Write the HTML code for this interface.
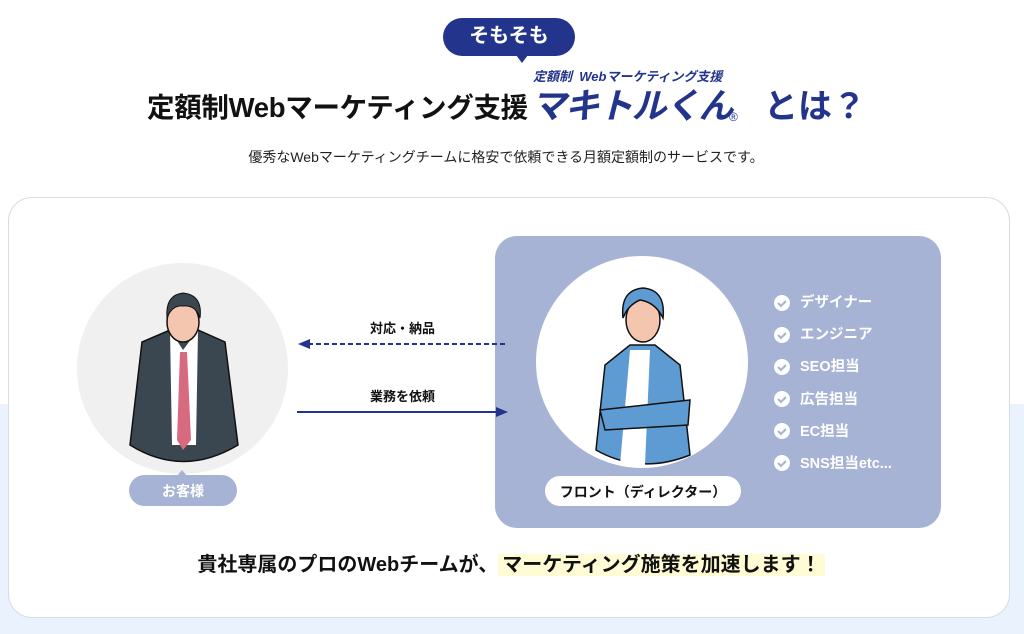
<!DOCTYPE html>
<html><head><meta charset="utf-8"><style>
body{margin:0;width:1024px;height:634px;position:relative;overflow:hidden;background:#fff;font-family:"Liberation Sans","Noto Sans CJK JP",sans-serif}
.abs{position:absolute}
.bg2{left:0;top:404px;width:1024px;height:230px;background:#eaf3fd}
.card{left:8px;top:197px;width:1000px;height:419px;background:#fff;border:1px solid #d8dbe0;border-radius:24px}
.t{white-space:nowrap}
</style></head><body>
<div class="abs bg2"></div>
<div class="abs card"></div>
<div class="abs" style="left:443px;top:18px;width:132px;height:38px;background:#23348c;border-radius:19px"></div>
<div class="abs" style="left:516px;top:55px;width:0;height:0;border-left:6px solid transparent;border-right:6px solid transparent;border-top:8px solid #23348c"></div>
<div class="abs t" style="left:443px;top:24px;width:132px;text-align:center;color:#fff;font-weight:bold;font-size:20px;line-height:24px">そもそも</div>
<div class="abs t" style="left:533px;top:66px;color:#23348c;font-style:italic;font-weight:bold;font-size:13px">定額制&nbsp;&nbsp;Webマーケティング支援</div>
<div class="abs t" style="left:147px;top:92px;color:#111;font-weight:bold;font-size:27.5px;line-height:32px;letter-spacing:-0.3px">定額制Webマーケティング支援</div>
<div class="abs t" style="left:531px;top:85px;color:#23348c;font-style:italic;font-weight:bold;font-size:35px;line-height:44px;letter-spacing:-1.5px">マキトルくん</div>
<div class="abs t" style="left:729px;top:110px;color:#23348c;font-size:12px">®</div>
<div class="abs t" style="left:764px;top:85px;color:#23348c;font-weight:bold;font-size:34px;line-height:44px">とは？</div>
<div class="abs t" style="left:0;top:147px;width:1012px;text-align:center;color:#222;font-size:14px">優秀なWebマーケティングチームに格安で依頼できる月額定額制のサービスです。</div>
<div class="abs" style="left:495px;top:236px;width:446px;height:292px;background:#a7b3d4;border-radius:22px"></div>
<div class="abs" style="left:77px;top:263px;width:211px;height:211px;border-radius:50%;background:#f0f0f0"></div>
<div class="abs" style="left:536px;top:256px;width:212px;height:212px;border-radius:50%;background:#fff"></div>
<svg class="abs" style="left:0;top:0" width="1024" height="634">
<path d="M130 445 L142 342 L170 330 L198 330 L225 342 L238 445 Q183 478 130 445Z" fill="#3a4750" stroke="#111" stroke-width="1.5"/>
<path d="M170 330 L183 350 L198 330 L196 445 L172 445Z" fill="#fff"/>
<path d="M180 352 L187 352 L191 440 L183 450 L177 440Z" fill="#d86a7f"/>
<ellipse cx="183" cy="322" rx="16" ry="20" fill="#f4c6b0" stroke="#111" stroke-width="1.5"/>
<path d="M167 318 Q165 295 183 293 Q203 295 200 318 Q196 305 183 306 Q172 305 167 318Z" fill="#3a4750" stroke="#111"/>
<path d="M596 450 L605 365 L630 345 L655 345 L680 365 L690 455 Q640 475 596 450Z" fill="#5f9bd3" stroke="#111" stroke-width="1.5"/>
<path d="M630 350 L650 350 L645 465 L620 465Z" fill="#fff"/>
<path d="M600 410 L690 400 L688 425 L605 430Z" fill="#5f9bd3" stroke="#111" stroke-width="1.5"/>
<ellipse cx="643" cy="320" rx="17" ry="22" fill="#f4c6b0" stroke="#111" stroke-width="1.5"/>
<path d="M623 318 Q620 290 643 288 Q666 290 663 318 Q655 302 640 300 Q628 305 623 318Z" fill="#5f9bd3" stroke="#111" stroke-width="1.5"/>
<line x1="308" y1="344" x2="507" y2="344" stroke="#23348c" stroke-width="2" stroke-dasharray="5,3"/>
<path d="M298 344 L310 339 L310 349Z" fill="#23348c"/>
<line x1="297" y1="412" x2="498" y2="412" stroke="#23348c" stroke-width="2"/>
<path d="M508 412 L496 407 L496 417Z" fill="#23348c"/>
<g fill="#fff">
<circle cx="782" cy="303" r="8"/><circle cx="782" cy="335" r="8"/><circle cx="782" cy="367" r="8"/><circle cx="782" cy="399" r="8"/><circle cx="782" cy="431" r="8"/><circle cx="782" cy="463" r="8"/>
</g>
<g fill="none" stroke="#a7b3d4" stroke-width="2">
<path d="M778 303 l3 3 l5 -5"/><path d="M778 335 l3 3 l5 -5"/><path d="M778 367 l3 3 l5 -5"/><path d="M778 399 l3 3 l5 -5"/><path d="M778 431 l3 3 l5 -5"/><path d="M778 463 l3 3 l5 -5"/>
</g>
</svg>
<div class="abs t" style="left:300px;top:318px;width:205px;text-align:center;font-weight:bold;font-size:13px;color:#111">対応・納品</div>
<div class="abs t" style="left:300px;top:386px;width:205px;text-align:center;font-weight:bold;font-size:13px;color:#111">業務を依頼</div>
<div class="abs" style="left:129px;top:475px;width:108px;height:31px;border-radius:16px;background:#a7b3d4"></div>
<div class="abs" style="left:177px;top:470px;width:0;height:0;border-left:5px solid transparent;border-right:5px solid transparent;border-bottom:6px solid #a7b3d4"></div>
<div class="abs t" style="left:129px;top:481px;width:108px;text-align:center;color:#fff;font-weight:bold;font-size:14px">お客様</div>
<div class="abs" style="left:545px;top:476px;width:196px;height:30px;border-radius:15px;background:#fff"></div>
<div class="abs t" style="left:545px;top:482px;width:196px;text-align:center;color:#111;font-weight:bold;font-size:14px">フロント（ディレクター）</div>
<div class="abs" style="left:800px;top:287px;color:#fff;font-weight:bold;font-size:14.5px;line-height:32.2px">デザイナー<br>エンジニア<br>SEO担当<br>広告担当<br>EC担当<br>SNS担当etc...</div>
<div class="abs t" style="left:0;top:552px;width:1022px;text-align:center;color:#111;font-weight:bold;font-size:20px;line-height:26px">貴社専属のプロのWebチームが、<span style="background:#fffbd4;padding:0 4px">マーケティング施策を加速します！</span></div>
</body></html>
